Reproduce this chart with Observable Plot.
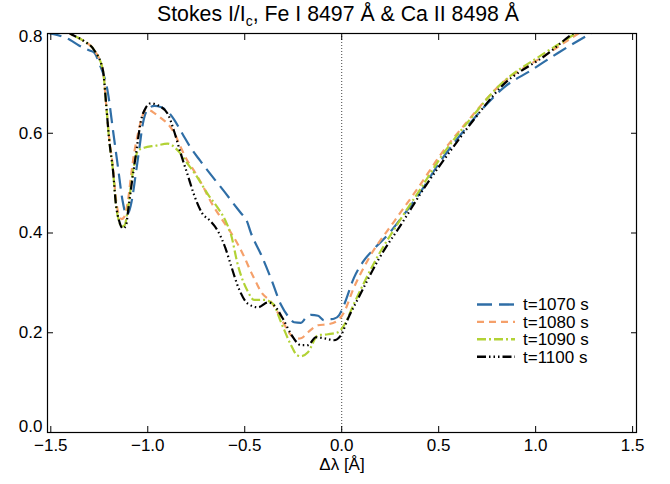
<!DOCTYPE html>
<html>
<head>
<meta charset="utf-8">
<script src="https://cdn.jsdelivr.net/npm/d3@7"></script>
<script src="https://cdn.jsdelivr.net/npm/@observablehq/plot@0.6"></script>
<style>
  html, body { margin: 0; padding: 0; background: #fff; }
  #chart svg { display: block; }
</style>
</head>
<body>
<div id="chart"></div>
<script>
// ---- data ----
const seriesLabels = ["t=1070 s", "t=1080 s", "t=1090 s", "t=1100 s"];
const seriesColors = ["#2f6ea6", "#f5a06a", "#b2d235", "#000000"];
const seriesDash = ["15,7", "7,5", "9,3,2,3", "9,3,1.5,3,1.5,3,1.5,3"];

const x1070 = [-1.52, -1.45, -1.40, -1.355, -1.30, -1.277, -1.25, -1.205, -1.179, -1.153, -1.13, -1.11, -1.095, -1.08, -1.065, -1.045, -1.025, -1.0, -0.965, -0.93, -0.90, -0.865, -0.82, -0.777, -0.73, -0.689, -0.65, -0.607, -0.56, -0.52, -0.49, -0.468, -0.416, -0.364, -0.313, -0.27, -0.246, -0.21, -0.185, -0.158, -0.122, -0.091, -0.06, -0.04, -0.014, 0.012, 0.063, 0.115, 0.166, 0.239, 0.321, 0.409, 0.509, 0.630, 0.733, 0.837, 0.976, 1.115, 1.270, 1.32];
const y1070 = [0.802, 0.795, 0.787, 0.776, 0.766, 0.762, 0.740, 0.680, 0.605, 0.530, 0.465, 0.437, 0.445, 0.470, 0.510, 0.565, 0.620, 0.648, 0.655, 0.652, 0.645, 0.628, 0.598, 0.570, 0.545, 0.524, 0.505, 0.484, 0.460, 0.440, 0.425, 0.400, 0.357, 0.308, 0.256, 0.230, 0.221, 0.220, 0.230, 0.236, 0.234, 0.225, 0.227, 0.228, 0.235, 0.256, 0.310, 0.345, 0.368, 0.397, 0.437, 0.484, 0.544, 0.605, 0.652, 0.692, 0.726, 0.761, 0.797, 0.808];

const x1080 = [-1.52, -1.45, -1.40, -1.33, -1.277, -1.231, -1.215, -1.200, -1.179, -1.164, -1.148, -1.135, -1.122, -1.102, -1.086, -1.071, -1.050, -1.035, -1.009, -0.985, -0.968, -0.93, -0.897, -0.86, -0.829, -0.80, -0.762, -0.72, -0.674, -0.622, -0.57, -0.535, -0.50, -0.468, -0.44, -0.416, -0.364, -0.313, -0.261, -0.235, -0.210, -0.174, -0.122, -0.071, -0.019, 0.012, 0.06, 0.141, 0.27, 0.393, 0.512, 0.651, 0.806, 1.064, 1.208, 1.26];
const y1080 = [0.83, 0.815, 0.80, 0.785, 0.767, 0.726, 0.660, 0.595, 0.530, 0.468, 0.435, 0.428, 0.432, 0.465, 0.515, 0.558, 0.600, 0.625, 0.647, 0.645, 0.641, 0.630, 0.619, 0.598, 0.571, 0.548, 0.525, 0.497, 0.462, 0.430, 0.400, 0.377, 0.350, 0.322, 0.300, 0.282, 0.262, 0.229, 0.195, 0.188, 0.189, 0.201, 0.215, 0.217, 0.225, 0.241, 0.288, 0.350, 0.423, 0.490, 0.558, 0.625, 0.693, 0.760, 0.797, 0.81];

const x1090 = [-1.52, -1.45, -1.40, -1.33, -1.277, -1.231, -1.215, -1.200, -1.179, -1.164, -1.148, -1.135, -1.12, -1.102, -1.076, -1.050, -1.019, -0.96, -0.897, -0.844, -0.793, -0.75, -0.710, -0.689, -0.638, -0.60, -0.571, -0.535, -0.483, -0.452, -0.401, -0.354, -0.313, -0.261, -0.230, -0.210, -0.174, -0.122, -0.071, -0.019, 0.012, 0.063, 0.167, 0.296, 0.409, 0.522, 0.656, 0.806, 1.043, 1.193, 1.24];
const y1090 = [0.83, 0.815, 0.80, 0.785, 0.767, 0.726, 0.660, 0.591, 0.524, 0.457, 0.423, 0.413, 0.415, 0.450, 0.524, 0.565, 0.571, 0.575, 0.579, 0.565, 0.538, 0.515, 0.490, 0.477, 0.450, 0.425, 0.397, 0.335, 0.282, 0.266, 0.266, 0.258, 0.221, 0.175, 0.155, 0.153, 0.161, 0.195, 0.197, 0.201, 0.215, 0.258, 0.340, 0.423, 0.490, 0.558, 0.625, 0.693, 0.760, 0.797, 0.81];

const x1100 = [-1.52, -1.45, -1.40, -1.33, -1.277, -1.231, -1.215, -1.200, -1.179, -1.164, -1.148, -1.128, -1.112, -1.102, -1.086, -1.061, -1.035, -1.009, -0.984, -0.948, -0.897, -0.865, -0.829, -0.793, -0.76, -0.72, -0.68, -0.64, -0.60, -0.571, -0.530, -0.483, -0.432, -0.380, -0.349, -0.303, -0.261, -0.210, -0.174, -0.133, -0.091, -0.040, -0.004, 0.032, 0.084, 0.187, 0.316, 0.425, 0.548, 0.677, 0.822, 1.064, 1.182, 1.23];
const y1100 = [0.83, 0.815, 0.80, 0.785, 0.767, 0.726, 0.660, 0.591, 0.524, 0.457, 0.425, 0.409, 0.415, 0.443, 0.490, 0.558, 0.625, 0.652, 0.660, 0.656, 0.639, 0.605, 0.558, 0.515, 0.475, 0.440, 0.425, 0.405, 0.370, 0.335, 0.288, 0.258, 0.251, 0.261, 0.255, 0.228, 0.197, 0.175, 0.175, 0.191, 0.189, 0.185, 0.195, 0.228, 0.268, 0.345, 0.423, 0.490, 0.558, 0.625, 0.693, 0.760, 0.797, 0.81];

const xTicks = [-1.5, -1.0, -0.5, 0.0, 0.5, 1.0, 1.5];
const yTicks = [0.0, 0.2, 0.4, 0.6, 0.8];
const yTicksInner = [0.2, 0.4, 0.6];
const yTickBottom = [0.0];
const yTickTop = [0.8];
const zeroLine = [0];
const titleMain = "Stokes I/I";
const titleSub = "c";
const titleRest = ", Fe I 8497 Å & Ca II 8498 Å";
const xLabel = "Δλ [Å]";

// ---- build ----
const seriesX = [x1070, x1080, x1090, x1100];
const seriesY = [y1070, y1080, y1090, y1100];
const fmt = d3.format(".1f");
const font = "'Liberation Sans', Arial, Helvetica, sans-serif";

const lineMarks = seriesLabels.map((lab, k) =>
  Plot.line(seriesX[k].map((x, i) => ({x, y: seriesY[k][i]})), {
    x: "x", y: "y",
    stroke: seriesColors[k],
    strokeDasharray: seriesDash[k],
    strokeWidth: 2.2,
    strokeLinecap: "butt",
    curve: "monotone-x",
    clip: true
  })
);

const blank = () => "";
const yLab = {anchor: "left", tickSize: 0, tickPadding: 5, tickFormat: fmt, label: null, fontSize: 17};

const plot = Plot.plot({
  width: 670,
  height: 484,
  marginLeft: 47,
  marginRight: 34,
  marginTop: 33,
  marginBottom: 52,
  style: {fontFamily: font, fontSize: "17px", background: "#fff", color: "#000", overflow: "visible"},
  x: {domain: [-1.517, 1.52]},
  y: {domain: [0, 0.8]},
  marks: [
    Plot.ruleX(zeroLine, {stroke: "#444", strokeWidth: 1, strokeDasharray: "1,2"}),
    ...lineMarks,
    Plot.frame({stroke: "#000", strokeWidth: 1.2}),
    Plot.axisX(xTicks, {anchor: "bottom", tickSize: 0, tickPadding: 6, tickFormat: fmt, label: null, fontSize: 17}),
    Plot.axisX(xTicks, {anchor: "bottom", tickSize: -6, tickFormat: blank, label: null}),
    Plot.axisX(xTicks, {anchor: "top", tickSize: -6, tickFormat: blank, label: null}),
    Plot.axisY(yTicksInner, yLab),
    Plot.axisY(yTickBottom, {...yLab, dy: -6}),
    Plot.axisY(yTickTop, {...yLab, dy: 3}),
    Plot.axisY(yTicks, {anchor: "left", tickSize: -6, tickFormat: blank, label: null}),
    Plot.axisY(yTicks, {anchor: "right", tickSize: -6, tickFormat: blank, label: null}),
    Plot.text([xLabel], {frameAnchor: "bottom", dy: 37, fontSize: 17, text: d => d})
  ]
});

document.getElementById("chart").appendChild(plot);

// title with subscript
const svg = d3.select(plot);
const t = svg.append("text")
  .attr("x", 338).attr("y", 21)
  .attr("text-anchor", "middle")
  .attr("font-family", font)
  .attr("font-size", 21.3)
  .attr("fill", "#000");
t.append("tspan").text(titleMain);
t.append("tspan").attr("dy", 5).attr("font-size", 14).text(titleSub);
t.append("tspan").attr("dy", -5).text(titleRest);

// legend
const lg = svg.append("g")
  .attr("font-family", font)
  .attr("font-size", 17)
  .attr("text-anchor", "start");
seriesLabels.forEach((lab, k) => {
  const yy = 304.5 + k * 17.4;
  lg.append("line")
    .attr("x1", 477).attr("x2", 515).attr("y1", yy).attr("y2", yy)
    .attr("stroke", seriesColors[k]).attr("stroke-width", 2.4)
    .attr("stroke-dasharray", seriesDash[k]);
  lg.append("text")
    .attr("x", 523).attr("y", yy).attr("dy", "0.35em")
    .attr("text-anchor", "start")
    .attr("fill", "#000").text(lab);
});
</script>
</body>
</html>
